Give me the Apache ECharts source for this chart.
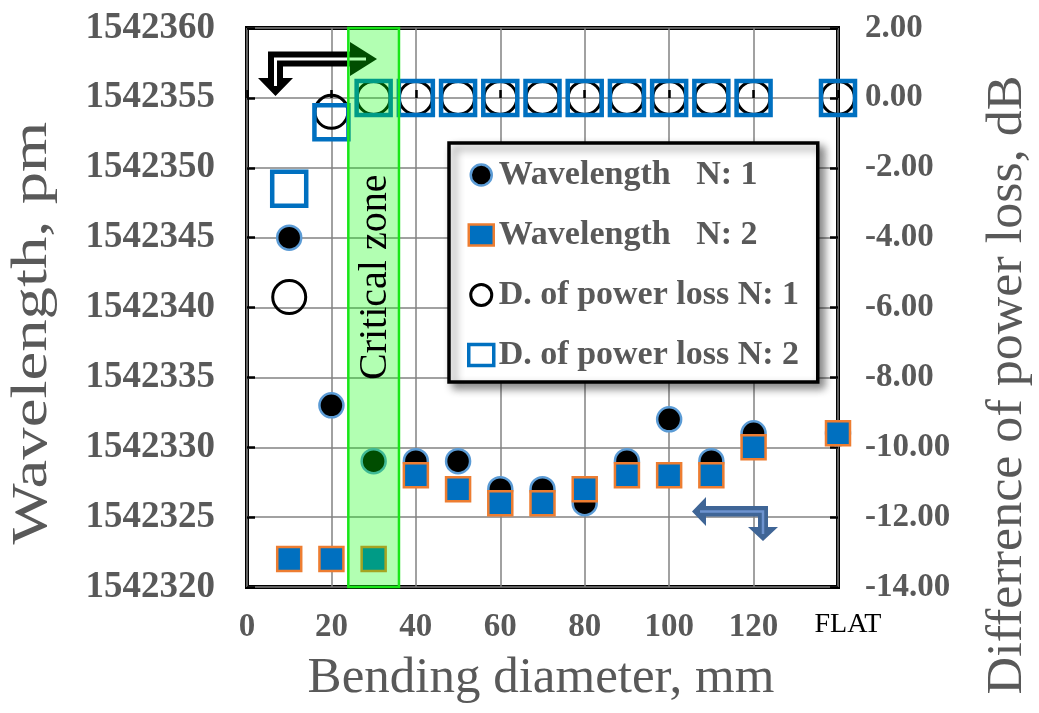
<!DOCTYPE html>
<html>
<head>
<meta charset="utf-8">
<script src="https://cdn.jsdelivr.net/npm/echarts@6/dist/echarts.min.js"></script>
<style>
  html, body { margin: 0; padding: 0; background: #fff; }
  #chart { width: 1039px; height: 713px; }
</style>
</head>
<body>
<div id="chart"></div>
<script>
// Bending diameter (mm); the last position stands for the flat (unbent) fibre
const diameters = [10, 20, 30, 40, 50, 60, 70, 80, 90, 100, 110, 120, 140];
const flatPosition = 140;
const flatLabel = 'FLAT';

// Peak wavelength, pm
const wavelengthN1 = [1542345, 1542333, 1542329, 1542329, 1542329, 1542327, 1542327, 1542326, 1542329, 1542332, 1542329, 1542331, 1542331];
const wavelengthN2 = [1542322, 1542322, 1542322, 1542328, 1542327, 1542326, 1542326, 1542327, 1542328, 1542328, 1542328, 1542330, 1542331];

// Difference of power loss, dB
const lossN1 = [-5.7, -0.4, 0, 0, 0, 0, 0, 0, 0, 0, 0, 0, 0];
const lossN2 = [-2.6, -0.7, 0, 0, 0, 0, 0, 0, 0, 0, 0, 0, 0];

// Axis ranges
const xRange = [0, 140, 20];
const wavelengthRange = [1542320, 1542360, 5];
const lossRange = [-14, 2, 2];

// Critical bending zone (mm)
const criticalZone = [24, 36];

const seriesNames = ['Wavelength   N: 1', 'Wavelength   N: 2', 'D. of power loss N: 1', 'D. of power loss N: 2'];

const SERIF = "'Liberation Serif', 'Times New Roman', serif";
const GREY = '#595959';

const styles = {
  w1: { color: '#000000', borderColor: '#5b9bd5', borderWidth: 2.5, opacity: 1 },
  w2: { color: '#0070c0', borderColor: '#ed7d31', borderWidth: 2.5, opacity: 1 },
  d1: { color: 'rgba(255,255,255,0)', borderColor: '#000000', borderWidth: 3, opacity: 1 },
  d2: { color: 'rgba(255,255,255,0)', borderColor: '#0070c0', borderWidth: 4.5, opacity: 1 }
};

const pairs = (xs, ys) => xs.map((x, i) => [x, ys[i]]);

const chart = echarts.init(document.getElementById('chart'), null, { renderer: 'canvas' });

const tickStyle = { show: true, inside: true, length: 8, lineStyle: { color: '#000', width: 2.5 } };
const gridLine = { show: true, lineStyle: { color: '#828282', width: 1.5 } };

const option = {
  animation: false,
  backgroundColor: '#ffffff',
  grid: {
    left: 247, right: 201, top: 28, bottom: 126,
    show: true, borderColor: '#000', borderWidth: 4, backgroundColor: 'rgba(0,0,0,0)'
  },
  xAxis: {
    type: 'value', min: xRange[0], max: xRange[1], interval: xRange[2],
    axisLine: { show: false },
    axisTick: tickStyle,
    splitLine: gridLine,
    axisLabel: {
      margin: 24, fontFamily: SERIF, fontWeight: 'bold', fontSize: 33, color: GREY,
      formatter: v => v === flatPosition ? '{flat|' + flatLabel + '}' : String(v),
      rich: { flat: { fontFamily: SERIF, fontWeight: 'normal', fontSize: 28, color: '#000', padding: [0, 0, 0, 20] } }
    }
  },
  yAxis: [
    {
      type: 'value', position: 'left',
      min: wavelengthRange[0], max: wavelengthRange[1], interval: wavelengthRange[2],
      axisLine: { show: false },
      axisTick: tickStyle,
      splitLine: gridLine,
      axisLabel: { margin: 32, fontFamily: SERIF, fontWeight: 'bold', fontSize: 37, color: GREY, formatter: v => String(v) }
    },
    {
      type: 'value', position: 'right',
      min: lossRange[0], max: lossRange[1], interval: lossRange[2],
      axisLine: { show: false },
      axisTick: tickStyle,
      splitLine: { show: false },
      axisLabel: { margin: 27, fontFamily: SERIF, fontWeight: 'bold', fontSize: 33, color: GREY, formatter: v => v.toFixed(2) }
    }
  ],
  legend: {
    data: [
      { name: seriesNames[0], icon: 'circle', itemStyle: styles.w1 },
      { name: seriesNames[1], icon: 'rect', itemStyle: styles.w2 },
      { name: seriesNames[2], icon: 'circle', itemStyle: { color: '#fff', borderColor: '#000', borderWidth: 3, opacity: 1 } },
      { name: seriesNames[3], icon: 'rect', itemStyle: { color: '#fff', borderColor: '#0070c0', borderWidth: 3.5, opacity: 1 } }
    ],
    orient: 'vertical', left: 449, top: 143,
    padding: [15, 14, 10, 18],
    itemGap: 26, itemWidth: 25, itemHeight: 21,
    backgroundColor: '#fff', borderColor: '#000', borderWidth: 3.5,
    shadowBlur: 8, shadowColor: 'rgba(0,0,0,0.45)', shadowOffsetX: 5, shadowOffsetY: 5,
    selectedMode: false, z: 20,
    textStyle: { fontFamily: SERIF, fontWeight: 'bold', fontSize: 34, lineHeight: 34, color: GREY, width: 305 }
  },
  series: [
    {
      name: seriesNames[0], type: 'scatter', yAxisIndex: 0, z: 3,
      symbol: 'circle', symbolSize: 24, itemStyle: styles.w1,
      emphasis: { disabled: true },
      data: pairs(diameters, wavelengthN1)
    },
    {
      name: seriesNames[1], type: 'scatter', yAxisIndex: 0, z: 4,
      symbol: 'rect', symbolSize: 24, itemStyle: styles.w2,
      emphasis: { disabled: true },
      data: pairs(diameters, wavelengthN2)
    },
    {
      name: seriesNames[2], type: 'scatter', yAxisIndex: 1, z: 5,
      symbol: 'circle', symbolSize: 33, itemStyle: styles.d1,
      emphasis: { disabled: true },
      data: pairs(diameters, lossN1)
    },
    {
      name: seriesNames[3], type: 'scatter', yAxisIndex: 1, z: 6,
      symbol: 'rect', symbolSize: 34, itemStyle: styles.d2,
      emphasis: { disabled: true },
      data: pairs(diameters, lossN2)
    },
    {
      // translucent band marking the critical bending zone, drawn over the markers
      type: 'custom', yAxisIndex: 0, z: 10, clip: false, silent: true,
      data: [criticalZone],
      renderItem: (params, api) => {
        const a = api.coord([criticalZone[0], wavelengthRange[1]]);
        const b = api.coord([criticalZone[1], wavelengthRange[0]]);
        const cx = (a[0] + b[0]) / 2;
        return {
          type: 'group',
          children: [
            {
              type: 'rect',
              shape: { x: a[0], y: a[1], width: b[0] - a[0], height: b[1] - a[1] },
              style: { fill: 'rgba(0,255,0,0.3)', stroke: '#19e619', lineWidth: 2.5 }
            },
            {
              type: 'text', x: cx + 2, y: a[1] + (b[1] - a[1]) * 0.446, rotation: Math.PI / 2,
              style: { text: 'Critical zone', fontFamily: SERIF, fontSize: 40, fill: '#000', align: 'center', verticalAlign: 'middle' }
            }
          ]
        };
      }
    }
  ],
  graphic: [
    // bent double arrow pointing to the left-hand axis data
    {
      type: 'polygon', z: 2, silent: true,
      shape: { points: [[268, 51.5], [350, 51.5], [350, 42], [377, 59], [350, 76], [350, 66.5], [283, 66.5], [283, 78], [293, 78], [275.5, 96], [258, 78], [268, 78]] },
      style: { fill: '#000' }
    },
    {
      type: 'polyline', z: 2, silent: true,
      shape: { points: [[275.5, 86], [275.5, 59], [366, 59]] },
      style: { stroke: '#fff', lineWidth: 3, fill: null }
    },
    // bent double arrow pointing to the right-hand axis data
    {
      type: 'polygon', z: 2, silent: true,
      shape: { points: [[692, 511.5], [706, 497], [706, 506], [768, 506], [768, 527], [778, 527], [763, 541], [748, 527], [758, 527], [758, 516.5], [706, 516.5], [706, 526]] },
      style: { fill: '#3f6596' }
    },
    {
      type: 'polyline', z: 2, silent: true,
      shape: { points: [[700, 511.5], [763, 511.5], [763, 534]] },
      style: { stroke: '#6d93cf', lineWidth: 2.5, fill: null }
    },
    // axis titles
    {
      type: 'text', x: 541, y: 679, silent: true,
      style: { text: 'Bending diameter, mm', fontFamily: SERIF, fontSize: 51, fill: GREY, align: 'center', verticalAlign: 'middle' }
    },
    {
      type: 'text', x: 33, y: 333, rotation: Math.PI / 2, scaleX: 1.27, silent: true,
      style: { text: 'Wavelength, pm', fontFamily: SERIF, fontSize: 51, fill: GREY, align: 'center', verticalAlign: 'middle' }
    },
    {
      type: 'text', x: 1008, y: 385, rotation: Math.PI / 2, scaleX: 1.02, silent: true,
      style: { text: 'Differrence of power loss, dB', fontFamily: SERIF, fontSize: 51, fill: GREY, align: 'center', verticalAlign: 'middle' }
    }
  ]
};

chart.setOption(option);
</script>
</body>
</html>
